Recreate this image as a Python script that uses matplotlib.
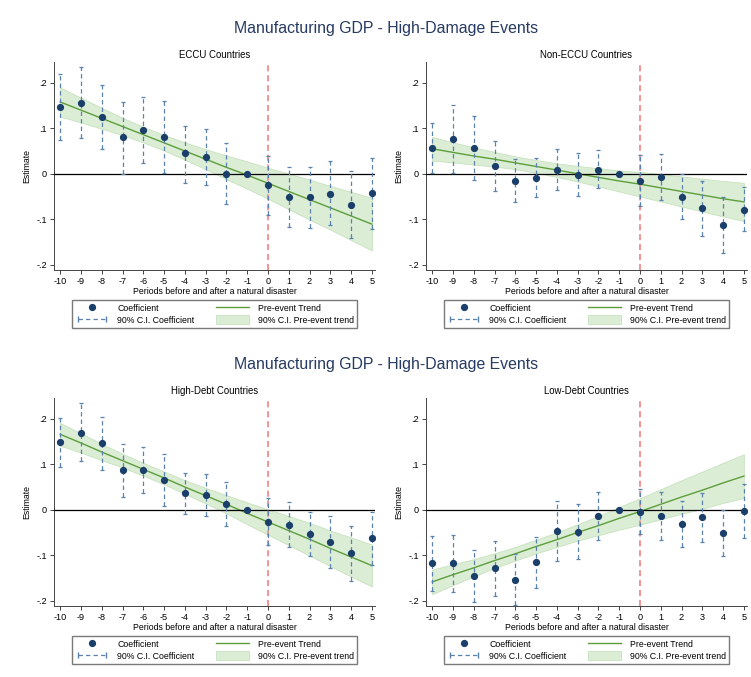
import numpy as np
import matplotlib.pyplot as plt
from matplotlib.lines import Line2D
from matplotlib.patches import Patch
from matplotlib.legend_handler import HandlerLine2D

plt.rcParams['font.family'] = ['Liberation Sans', 'DejaVu Sans']
plt.rcParams['axes.unicode_minus'] = False

periods = [-10, -9, -8, -7, -6, -5, -4, -3, -2, -1, 0, 1, 2, 3, 4, 5]
nan = np.nan

# ECCU countries
eccu_coef = [0.148, 0.156, 0.124, 0.080, 0.097, 0.081, 0.045, 0.037, 0.000, 0.0,
             -0.025, -0.051, -0.052, -0.044, -0.068, -0.043]
eccu_ci_hi = [0.220, 0.235, 0.195, 0.159, 0.169, 0.161, 0.106, 0.099, 0.068, nan,
              0.039, 0.015, 0.015, 0.028, 0.006, 0.035]
eccu_ci_lo = [0.075, 0.078, 0.055, 0.000, 0.024, 0.001, -0.020, -0.025, -0.066, nan,
              -0.091, -0.118, -0.119, -0.114, -0.142, -0.121]
eccu_trend = [0.158, 0.140, 0.122, 0.104, 0.086, 0.068, 0.050, 0.032, 0.014, -0.003,
              -0.021, -0.039, -0.057, -0.075, -0.093, -0.111]
eccu_band = [0.032, 0.027, 0.023, 0.019, 0.017, 0.017, 0.019, 0.022, 0.026, 0.030,
             0.034, 0.039, 0.044, 0.048, 0.053, 0.058]

# Non-ECCU countries
non_coef = [0.057, 0.076, 0.056, 0.017, -0.016, -0.009, 0.009, -0.002, 0.009, 0.0,
            -0.015, -0.007, -0.051, -0.076, -0.113, -0.079]
non_ci_hi = [0.111, 0.151, 0.127, 0.071, 0.033, 0.035, 0.054, 0.045, 0.052, nan,
             0.041, 0.043, -0.001, -0.015, -0.051, -0.029]
non_ci_lo = [0.002, 0.002, -0.014, -0.038, -0.063, -0.052, -0.035, -0.049, -0.031, nan,
             -0.070, -0.057, -0.100, -0.138, -0.175, -0.127]
non_trend = [0.055, 0.047, 0.039, 0.032, 0.024, 0.016, 0.008, 0.000, -0.008, -0.016,
             -0.023, -0.031, -0.039, -0.047, -0.055, -0.062]
non_band = [0.026, 0.022, 0.019, 0.016, 0.014, 0.014, 0.015, 0.017, 0.020, 0.023,
            0.027, 0.030, 0.033, 0.036, 0.039, 0.042]

# High-debt countries
hd_coef = [0.149, 0.170, 0.146, 0.087, 0.087, 0.065, 0.036, 0.032, 0.012, 0.0,
           -0.026, -0.033, -0.054, -0.072, -0.096, -0.063]
hd_ci_hi = [0.203, 0.236, 0.205, 0.145, 0.139, 0.122, 0.081, 0.078, 0.060, nan,
            0.026, 0.016, -0.004, -0.014, -0.036, -0.005]
hd_ci_lo = [0.093, 0.107, 0.087, 0.029, 0.036, 0.009, -0.010, -0.013, -0.036, nan,
            -0.078, -0.083, -0.103, -0.129, -0.157, -0.122]
hd_trend = [0.166, 0.147, 0.127, 0.108, 0.089, 0.070, 0.050, 0.031, 0.012, -0.008,
            -0.027, -0.046, -0.065, -0.085, -0.104, -0.123]
hd_band = [0.025, 0.021, 0.018, 0.015, 0.014, 0.014, 0.015, 0.017, 0.020, 0.024,
           0.028, 0.032, 0.036, 0.039, 0.043, 0.046]

# Low-debt countries
ld_coef = [-0.118, -0.118, -0.146, -0.129, -0.154, -0.116, -0.046, -0.049, -0.013, 0.0,
           -0.004, -0.013, -0.031, -0.016, -0.052, -0.002]
ld_ci_hi = [-0.058, -0.056, -0.088, -0.069, -0.098, -0.059, 0.020, 0.012, 0.040, nan,
            0.046, 0.040, 0.020, 0.036, 0.000, 0.057]
ld_ci_lo = [-0.178, -0.181, -0.204, -0.190, -0.209, -0.173, -0.112, -0.109, -0.067, nan,
            -0.054, -0.067, -0.083, -0.071, -0.103, -0.062]
ld_trend = [-0.159, -0.143, -0.128, -0.112, -0.097, -0.081, -0.066, -0.050, -0.035, -0.019,
            -0.004, 0.012, 0.028, 0.043, 0.059, 0.074]
ld_band = [0.027, 0.023, 0.019, 0.016, 0.015, 0.015, 0.016, 0.018, 0.021, 0.025,
           0.029, 0.033, 0.037, 0.041, 0.044, 0.048]

navy = '#1b3f6b'
ci_col = '#5a82ad'
green = '#5c9e3a'
band_col = '#dcedd6'
red = '#f07878'
title_col = '#263a63'
axis_col = '#444444'


def draw_panel(ax, title, coef, lo, hi, trend, band):
    x = np.array(periods)
    tr = np.array(trend)
    hw = np.array(band)
    ax.fill_between(x, tr - hw, tr + hw, color=band_col, edgecolor='#c6e2bd', lw=0.6, zorder=1)
    ax.plot(x, tr, color=green, lw=1.0, zorder=2)
    ax.axhline(0, color='black', lw=0.9, zorder=3)
    ax.axvline(0, color=red, lw=1.1, ls=(0, (4, 2.5)), zorder=3)
    c = np.array(coef)
    yerr = np.array([c - np.array(lo), np.array(hi) - c])
    eb = ax.errorbar(x, c, yerr=yerr, fmt='none', ecolor=ci_col, elinewidth=0.9,
                     capsize=1.5, capthick=0.9, zorder=4)
    eb[2][0].set_linestyle((0, (3.5, 2.5)))
    ax.plot(x, c, 'o', color=navy, ms=4.2, zorder=5, ls='none')

    ax.set_xlim(-10.3, 5.15)
    ax.set_ylim(-0.212, 0.246)
    ax.set_xticks(periods)
    ax.set_yticks([-0.2, -0.1, 0, 0.1, 0.2])
    ax.set_yticklabels(['-.2', '-.1', '0', '.1', '.2'])
    ax.tick_params(labelsize=6.6, length=3, width=0.7, pad=2, color=axis_col)
    for s in ['top', 'right']:
        ax.spines[s].set_visible(False)
    for s in ['left', 'bottom']:
        ax.spines[s].set_linewidth(0.7)
        ax.spines[s].set_color(axis_col)
    ax.set_title(title, fontsize=6.9, pad=3)
    ax.set_xlabel('Periods before and after a natural disaster', fontsize=6.3, labelpad=1)
    ax.set_ylabel('Estimate', fontsize=6.3, labelpad=4)

    h_coef = Line2D([], [], marker='o', color=navy, ms=4.2, ls='none')
    h_ci = Line2D([], [], color=ci_col, lw=0.9, ls=(0, (3.5, 2.5)), marker='|', ms=4)
    h_trend = Line2D([], [], color=green, lw=1.0)
    h_band = Patch(facecolor=band_col, edgecolor='#c6e2bd', lw=0.6)
    ax.legend([h_coef, h_ci, h_trend, h_band],
              ['Coefficient', '90% C.I. Coefficient', 'Pre-event Trend', '90% C.I. Pre-event trend'],
              ncol=2, loc='upper center', bbox_to_anchor=(0.5, -0.125), fontsize=6.3,
              frameon=True, fancybox=False, edgecolor='#7a7a7a', framealpha=1,
              handlelength=3.8, handleheight=1.2, handletextpad=1.0, columnspacing=2.4,
              labelspacing=0.3, borderpad=0.35,
              handler_map={h_ci: HandlerLine2D(numpoints=2)})


fig = plt.figure(figsize=(7.51, 6.77), dpi=100)
w = 0.4274
h = 0.3072
ax1 = fig.add_axes([0.0719, 0.6012, w, h])
ax2 = fig.add_axes([0.5672, 0.6012, w, h])
ax3 = fig.add_axes([0.0719, 0.1049, w, h])
ax4 = fig.add_axes([0.5672, 0.1049, w, h])

draw_panel(ax1, 'ECCU Countries', eccu_coef, eccu_ci_lo, eccu_ci_hi, eccu_trend, eccu_band)
draw_panel(ax2, 'Non-ECCU Countries', non_coef, non_ci_lo, non_ci_hi, non_trend, non_band)
draw_panel(ax3, 'High-Debt Countries', hd_coef, hd_ci_lo, hd_ci_hi, hd_trend, hd_band)
draw_panel(ax4, 'Low-Debt Countries', ld_coef, ld_ci_lo, ld_ci_hi, ld_trend, ld_band)

fig.text(0.514, 1 - 29 / 677, 'Manufacturing GDP - High-Damage Events', ha='center', va='center',
         fontsize=11.4, color=title_col)
fig.text(0.514, 1 - 364 / 677, 'Manufacturing GDP - High-Damage Events', ha='center', va='center',
         fontsize=11.4, color=title_col)

fig.savefig('out.png', dpi=100)
